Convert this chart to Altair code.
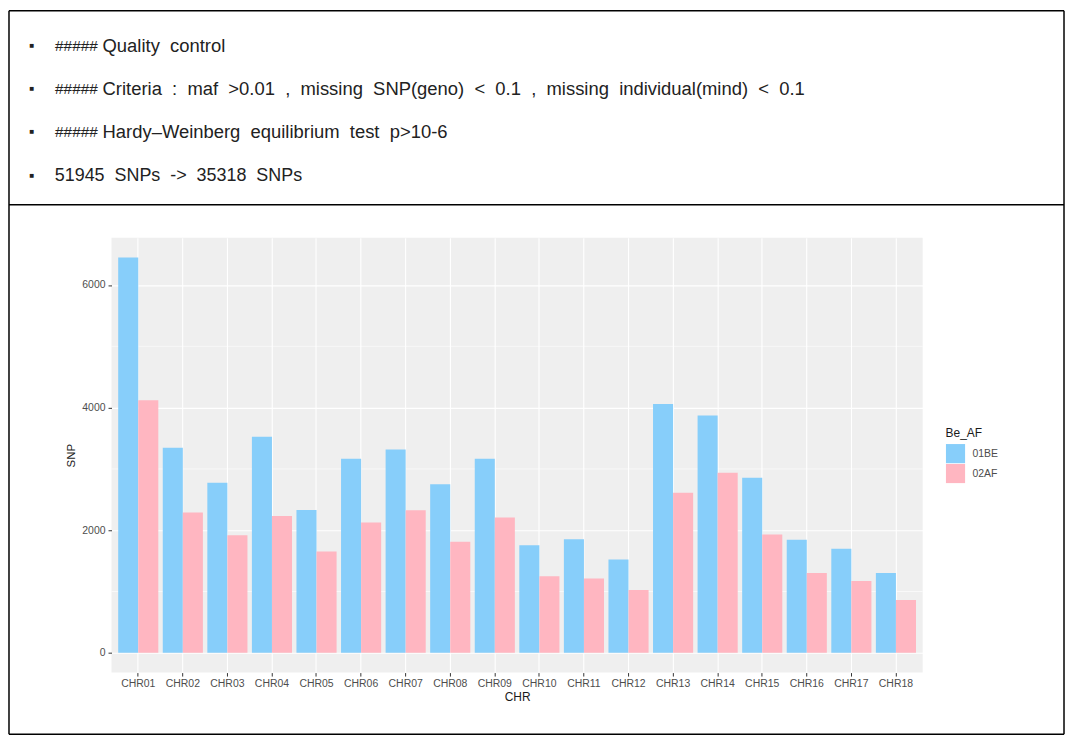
import altair as alt
import pandas as pd

# ---------------- data ----------------
chromosomes = [f"CHR{i:02d}" for i in range(1, 19)]
groups = ["01BE", "02AF"]
snp_01be = [6450, 3345, 2776, 3523, 2331, 3166, 3317, 2748, 3166, 1756,
            1854, 1523, 4060, 3870, 2857, 1843, 1696, 1301]
snp_02af = [4119, 2288, 1919, 2233, 1654, 2125, 2325, 1810, 2206, 1247,
            1214, 1024, 2613, 2938, 1930, 1301, 1171, 862]
y_ticks = [0, 2000, 4000, 6000]
y_minor = [1000, 3000, 5000]

note_hash = ["#####", "#####", "#####", ""]
note_text = [
    "Quality\u00a0 control",
    "Criteria\u00a0 :\u00a0 maf\u00a0 >0.01\u00a0 ,\u00a0 missing\u00a0 SNP(geno)\u00a0 <\u00a0 0.1\u00a0 ,\u00a0 missing\u00a0 individual(mind)\u00a0 <\u00a0 0.1",
    "Hardy\u2013Weinberg\u00a0 equilibrium\u00a0 test\u00a0 p>10-6",
    "51945\u00a0 SNPs\u00a0 ->\u00a0 35318\u00a0 SNPs",
]

rows = []
for c, a, b in zip(chromosomes, snp_01be, snp_02af):
    rows.append({"CHR": c, "Be_AF": groups[0], "SNP": a})
    rows.append({"CHR": c, "Be_AF": groups[1], "SNP": b})
df = pd.DataFrame(rows)

W, H = 815, 437
ymax = max(snp_01be + snp_02af)
yscale = alt.Scale(domain=[-0.05 * ymax, 1.05 * ymax], nice=False, zero=False)
FONT = "Liberation Sans"

y_axis = alt.Axis(title="SNP", values=y_ticks, format="d", grid=True,
                  gridColor="white", gridWidth=1.1, domain=False,
                  tickColor="#333333", tickSize=3.5, labelPadding=3,
                  labelFontSize=10.5, labelColor="#4D4D4D", labelFont=FONT,
                  titleFont=FONT, titleFontSize=11.5,
                  titleFontWeight="normal", titleColor="#1a1a1a",
                  titlePadding=5)

minor = alt.Chart(pd.DataFrame({"SNP": y_minor})).mark_rule(
    color="white", strokeWidth=0.6
).encode(y=alt.Y("SNP:Q", scale=yscale, axis=y_axis))

bars = alt.Chart(df).mark_bar().encode(
    x=alt.X("CHR:N", sort=chromosomes,
            scale=alt.Scale(paddingInner=0, paddingOuter=0.1),
            axis=alt.Axis(title="CHR", labelAngle=0, bandPosition=0.5,
                          grid=True, gridColor="white", gridWidth=1.1,
                          domain=False, tickColor="#333333", tickSize=3.5,
                          labelPadding=2, labelFontSize=10.5, labelColor="#4D4D4D",
                          labelFont=FONT, titleFont=FONT, titleFontSize=12,
                          titleFontWeight="normal", titleColor="#1a1a1a",
                          titlePadding=3)),
    xOffset=alt.XOffset("Be_AF:N", sort=groups,
                        scale=alt.Scale(paddingInner=0, paddingOuter=0.111)),
    y=alt.Y("SNP:Q", scale=yscale, axis=y_axis),
    y2=alt.datum(0),
    color=alt.Color("Be_AF:N", sort=groups,
                    scale=alt.Scale(domain=groups, range=["#87CEFA", "#FFB6C1"]),
                    legend=alt.Legend(title="Be_AF", orient="none",
                                      legendX=838, legendY=191,
                                      symbolType="square", symbolSize=370,
                                      symbolStrokeWidth=0, rowPadding=0,
                                      labelFontSize=10.5, labelFont=FONT,
                                      labelColor="#4D4D4D",
                                      titleFontSize=12, titleFont=FONT,
                                      titleFontWeight="normal",
                                      titleColor="#1a1a1a", titlePadding=4,
                                      labelOffset=7)),
)

one = pd.DataFrame({"k": [0]})
layers = [minor, bars]

line_y = [-193, -149, -106, -62]
for i in range(4):
    layers.append(alt.Chart(one).mark_text(
        text="\u25a0", fontSize=8, color="#222222", align="center", baseline="middle"
    ).encode(x=alt.value(-80), y=alt.value(line_y[i])))
    if note_hash[i]:
        layers.append(alt.Chart(one).mark_text(
            text=note_hash[i], fontSize=15.5, font=FONT, fontStyle="italic",
            color="#222222", align="left", baseline="middle"
        ).encode(x=alt.value(-57), y=alt.value(line_y[i])))
        tx, fs = -9, 18.5
    else:
        tx, fs = -57, 18
    layers.append(alt.Chart(one).mark_text(
        text=note_text[i], fontSize=fs, font=FONT,
        color="#222222", align="left", baseline="middle"
    ).encode(x=alt.value(tx), y=alt.value(line_y[i])))

# frame lines
L, R, T, B, D = -103, 957, -228, 499, -33
for (x1, x2, y1, y2) in [(L, R, T, T), (L, R, D, D), (L, R, B, B), (L, L, T, B), (R, R, T, B)]:
    layers.append(alt.Chart(one).mark_rule(color="black", strokeWidth=1.5).encode(
        x=alt.value(x1), x2=alt.value(x2), y=alt.value(y1), y2=alt.value(y2)))

chart = alt.layer(*layers).properties(
    width=W, height=H,
    autosize=alt.AutoSizeParams(type="none"),
    padding={"left": 104, "top": 229, "right": 143, "bottom": 66},
    background="white",
).configure_view(fill="#EFEFEF", stroke=None)

chart.save("out.html", embed_options={"renderer": "svg", "actions": False})
